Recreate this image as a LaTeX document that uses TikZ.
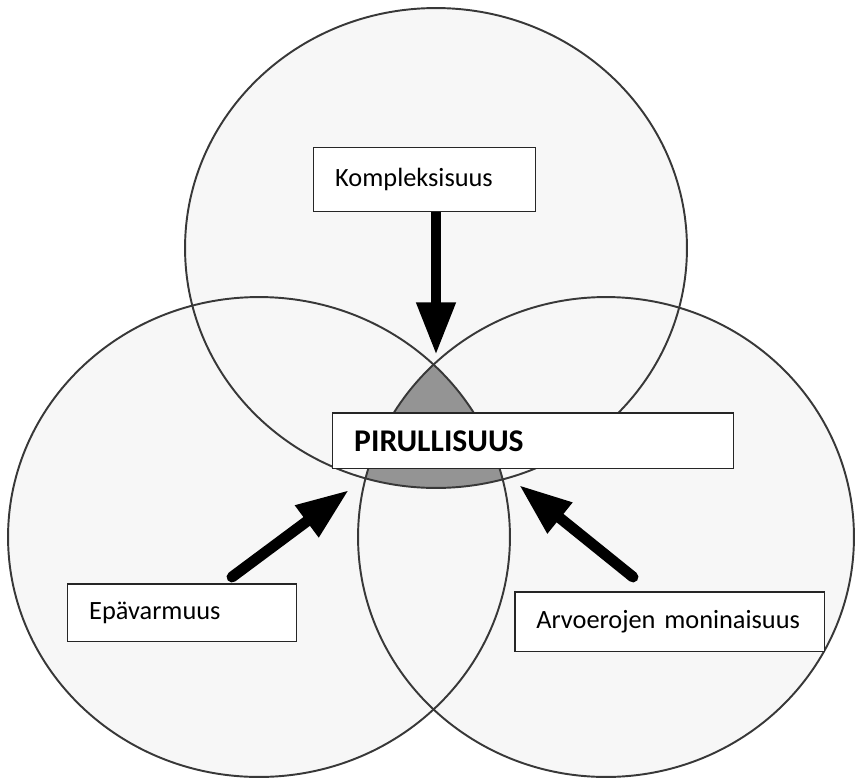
\documentclass[tikz,border=0pt]{standalone}
\usepackage{fontspec}
\setmainfont{Carlito}
\usetikzlibrary{arrows.meta,positioning}

\begin{document}
\begin{tikzpicture}[x=0.02cm, y=-0.02cm,
    ring/.style={draw=black!78, line width=1.1pt},
    labelbox/.style={draw=black!85, fill=white, line width=0.85pt, anchor=north west,
      inner ysep=0pt, inner xsep=0.43cm, align=left, font=\fontsize{15}{18}\selectfont},
    bigarrow/.style={line width=6.2pt, line cap=round, -{Triangle[width=21pt, length=30pt]}}
  ]
  \useasboundingbox (0,0) rectangle (855,778);

  % the three circles
  \coordinate (topc) at (436,248);
  \coordinate (leftc) at (259,537);
  \coordinate (rightc) at (606,537);
  \foreach \c/\r in {topc/5.02,leftc/5.02,rightc/4.96}
    \fill[black!3] (\c) ellipse [x radius=\r cm, y radius=4.8cm];

  % common part of all three
  \begin{scope}
    \clip (leftc) ellipse [x radius=5.02cm, y radius=4.8cm];
    \clip (rightc) ellipse [x radius=4.96cm, y radius=4.8cm];
    \fill[black!42] (topc) ellipse [x radius=5.02cm, y radius=4.8cm];
  \end{scope}

  \foreach \c/\r in {topc/5.02,leftc/5.02,rightc/4.96}
    \draw[ring] (\c) ellipse [x radius=\r cm, y radius=4.8cm];

  % arrows
  \coordinate (komplTip) at (436,355);
  \coordinate (epaTail) at (232,577);
  \coordinate (epaTip) at (349,490);
  \coordinate (arvoTail) at (633,577);
  \coordinate (arvoTip) at (519,485);

  % labels
  \node[labelbox, text width=3.58cm, minimum height=1.28cm] (kompl) at (313,147) {Kompleksisuus};
  \node[labelbox, text width=7.16cm, minimum height=1.12cm,
        font=\fontsize{18}{21}\selectfont\bfseries] (piru) at (332,412) {PIRULLISUUS};
  \node[labelbox, text width=3.72cm, minimum height=1.16cm] (epa) at (67,583) {Epävarmuus};
  \node[labelbox, text width=5.34cm, minimum height=1.2cm] (arvo) at (514,591) {Arvoerojen moninaisuus};

  \draw[bigarrow, line cap=butt] (kompl.south -| komplTip) -- (komplTip);
  \draw[bigarrow] (epaTail) -- (epaTip);
  \draw[bigarrow] (arvoTail) -- (arvoTip);
\end{tikzpicture}
\end{document}
